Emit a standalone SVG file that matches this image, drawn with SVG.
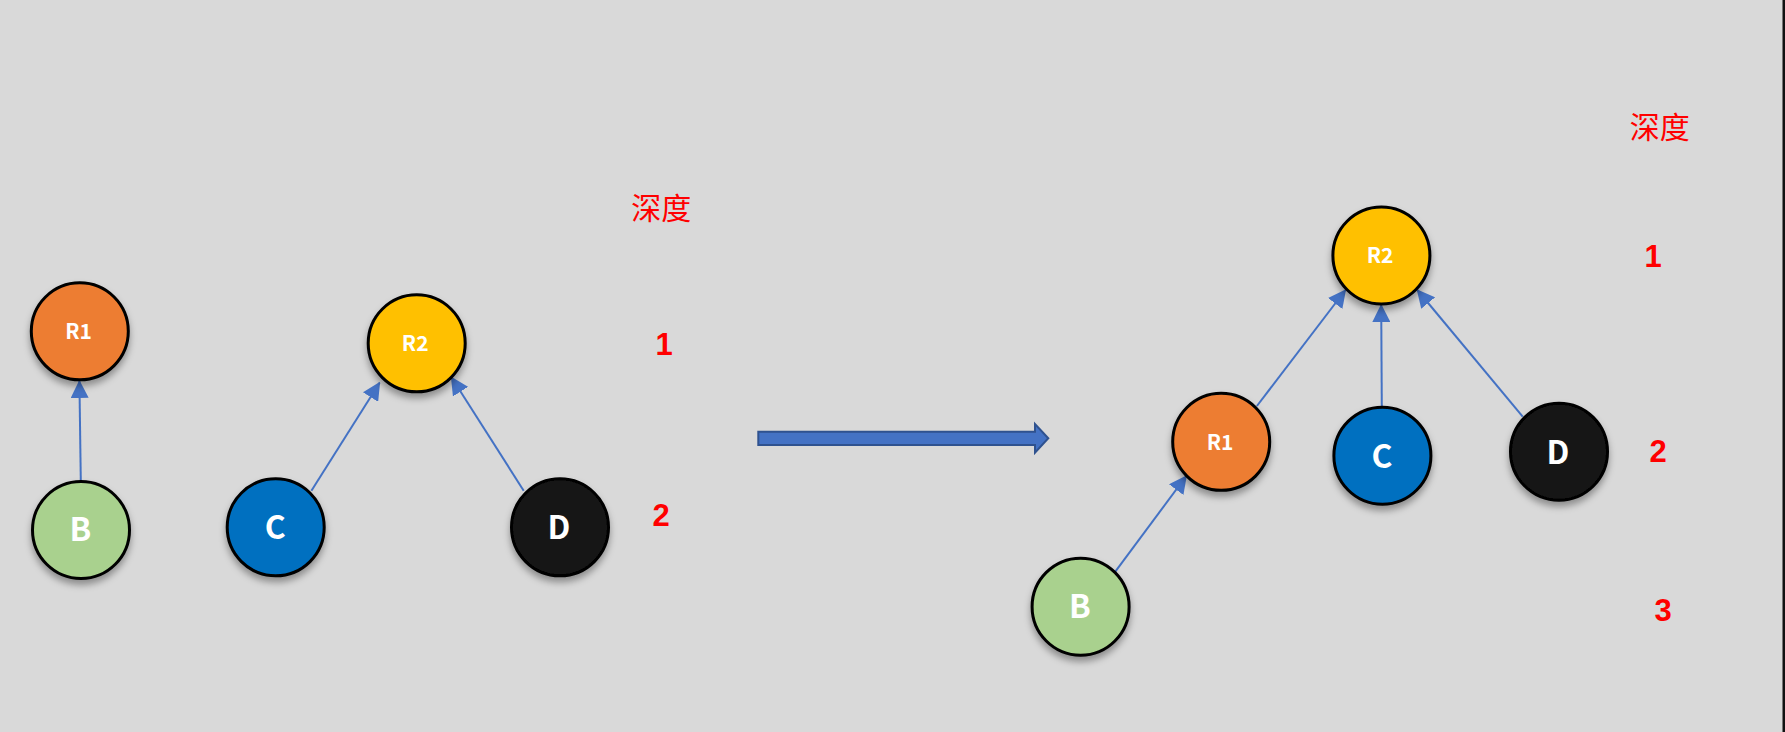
<svg xmlns="http://www.w3.org/2000/svg" width="1785" height="732" viewBox="0 0 1785 732">
<defs>
<filter id="sh" x="-30%" y="-30%" width="160%" height="170%">
<feDropShadow dx="0" dy="5" stdDeviation="3.5" flood-color="#000" flood-opacity="0.35"/>
</filter>
<marker id="ah" markerUnits="userSpaceOnUse" markerWidth="18" markerHeight="18" refX="17" refY="9" orient="auto">
<path d="M0,0 L18,9 L0,18 z" fill="#4472C4"/>
</marker>
</defs>
<style>
.n{stroke:#000;stroke-width:3;filter:url(#sh)}
.lbl{font-family:"Noto Sans CJK SC","Noto Sans",sans-serif;font-weight:bold;fill:#fff;text-anchor:middle}
.s{font-size:21px}
.b{font-size:32px}
.c{stroke:#4472C4;stroke-width:2;fill:none;marker-end:url(#ah)}
.d{font-family:"Liberation Sans",Arial,sans-serif;font-weight:bold;font-size:31px;fill:#FF0000;text-anchor:middle}
.z{font-family:"Noto Sans CJK SC",sans-serif;font-size:30px;fill:#FF0000;text-anchor:middle}
</style>
<rect width="1785" height="732" fill="#D9D9D9"/>
<rect x="1782.5" y="0" width="2.5" height="732" fill="#111"/>

<g id="connectors">
<line class="c" x1="80.8" y1="480.7" x2="79.4" y2="381"/>
<line class="c" x1="311.4" y1="490.7" x2="379.6" y2="382.7"/>
<line class="c" x1="523.7" y1="490.7" x2="451.4" y2="377.3"/>
<line class="c" x1="1256.9" y1="406" x2="1345.5" y2="290"/>
<line class="c" x1="1381.8" y1="406" x2="1381.2" y2="305"/>
<line class="c" x1="1522.7" y1="416.7" x2="1417.3" y2="290"/>
<line class="c" x1="1115.3" y1="571.7" x2="1186.3" y2="476"/>
</g>

<g id="left-R1"><circle class="n" cx="79.8" cy="331.3" r="48.5" fill="#ED7D31"/><text class="lbl s" x="78.5" y="339">R1</text></g>
<g id="left-B"><circle class="n" cx="81" cy="530" r="48.5" fill="#A9D18E"/><text class="lbl b" x="80.5" y="541">B</text></g>
<g id="left-R2"><circle class="n" cx="416.7" cy="343.3" r="48.5" fill="#FFC000"/><text class="lbl s" x="415.2" y="351">R2</text></g>
<g id="left-C"><circle class="n" cx="275.7" cy="527.3" r="48.5" fill="#0070C0"/><text class="lbl b" x="275.3" y="539">C</text></g>
<g id="left-D"><circle class="n" cx="560" cy="527.3" r="48.5" fill="#151515"/><text class="lbl b" x="559" y="539">D</text></g>

<g id="right-R2"><circle class="n" cx="1381.4" cy="255.5" r="48.5" fill="#FFC000"/><text class="lbl s" x="1380" y="263">R2</text></g>
<g id="right-R1"><circle class="n" cx="1221.2" cy="441.8" r="48.5" fill="#ED7D31"/><text class="lbl s" x="1220" y="449.5">R1</text></g>
<g id="right-C"><circle class="n" cx="1382.4" cy="455.7" r="48.5" fill="#0070C0"/><text class="lbl b" x="1382" y="467.5">C</text></g>
<g id="right-D"><circle class="n" cx="1559" cy="451.7" r="48.5" fill="#151515"/><text class="lbl b" x="1558" y="463.5">D</text></g>
<g id="right-B"><circle class="n" cx="1080.6" cy="606.7" r="48.5" fill="#A9D18E"/><text class="lbl b" x="1080" y="618">B</text></g>

<g id="transform-arrow">
<polygon points="758.3,431.7 1035,431.7 1035,424 1048.3,438.3 1035,452.7 1035,445 758.3,445" fill="#4472C4" stroke="#2F528F" stroke-width="2"/>
</g>

<g id="depth-labels">
<text class="z" x="661.2" y="218.5">深度</text>
<text class="d" x="664" y="355">1</text>
<text class="d" x="661" y="525.7">2</text>
<text class="z" x="1659.7" y="138">深度</text>
<text class="d" x="1653" y="267">1</text>
<text class="d" x="1658" y="462">2</text>
<text class="d" x="1663" y="621">3</text>
</g>
</svg>
